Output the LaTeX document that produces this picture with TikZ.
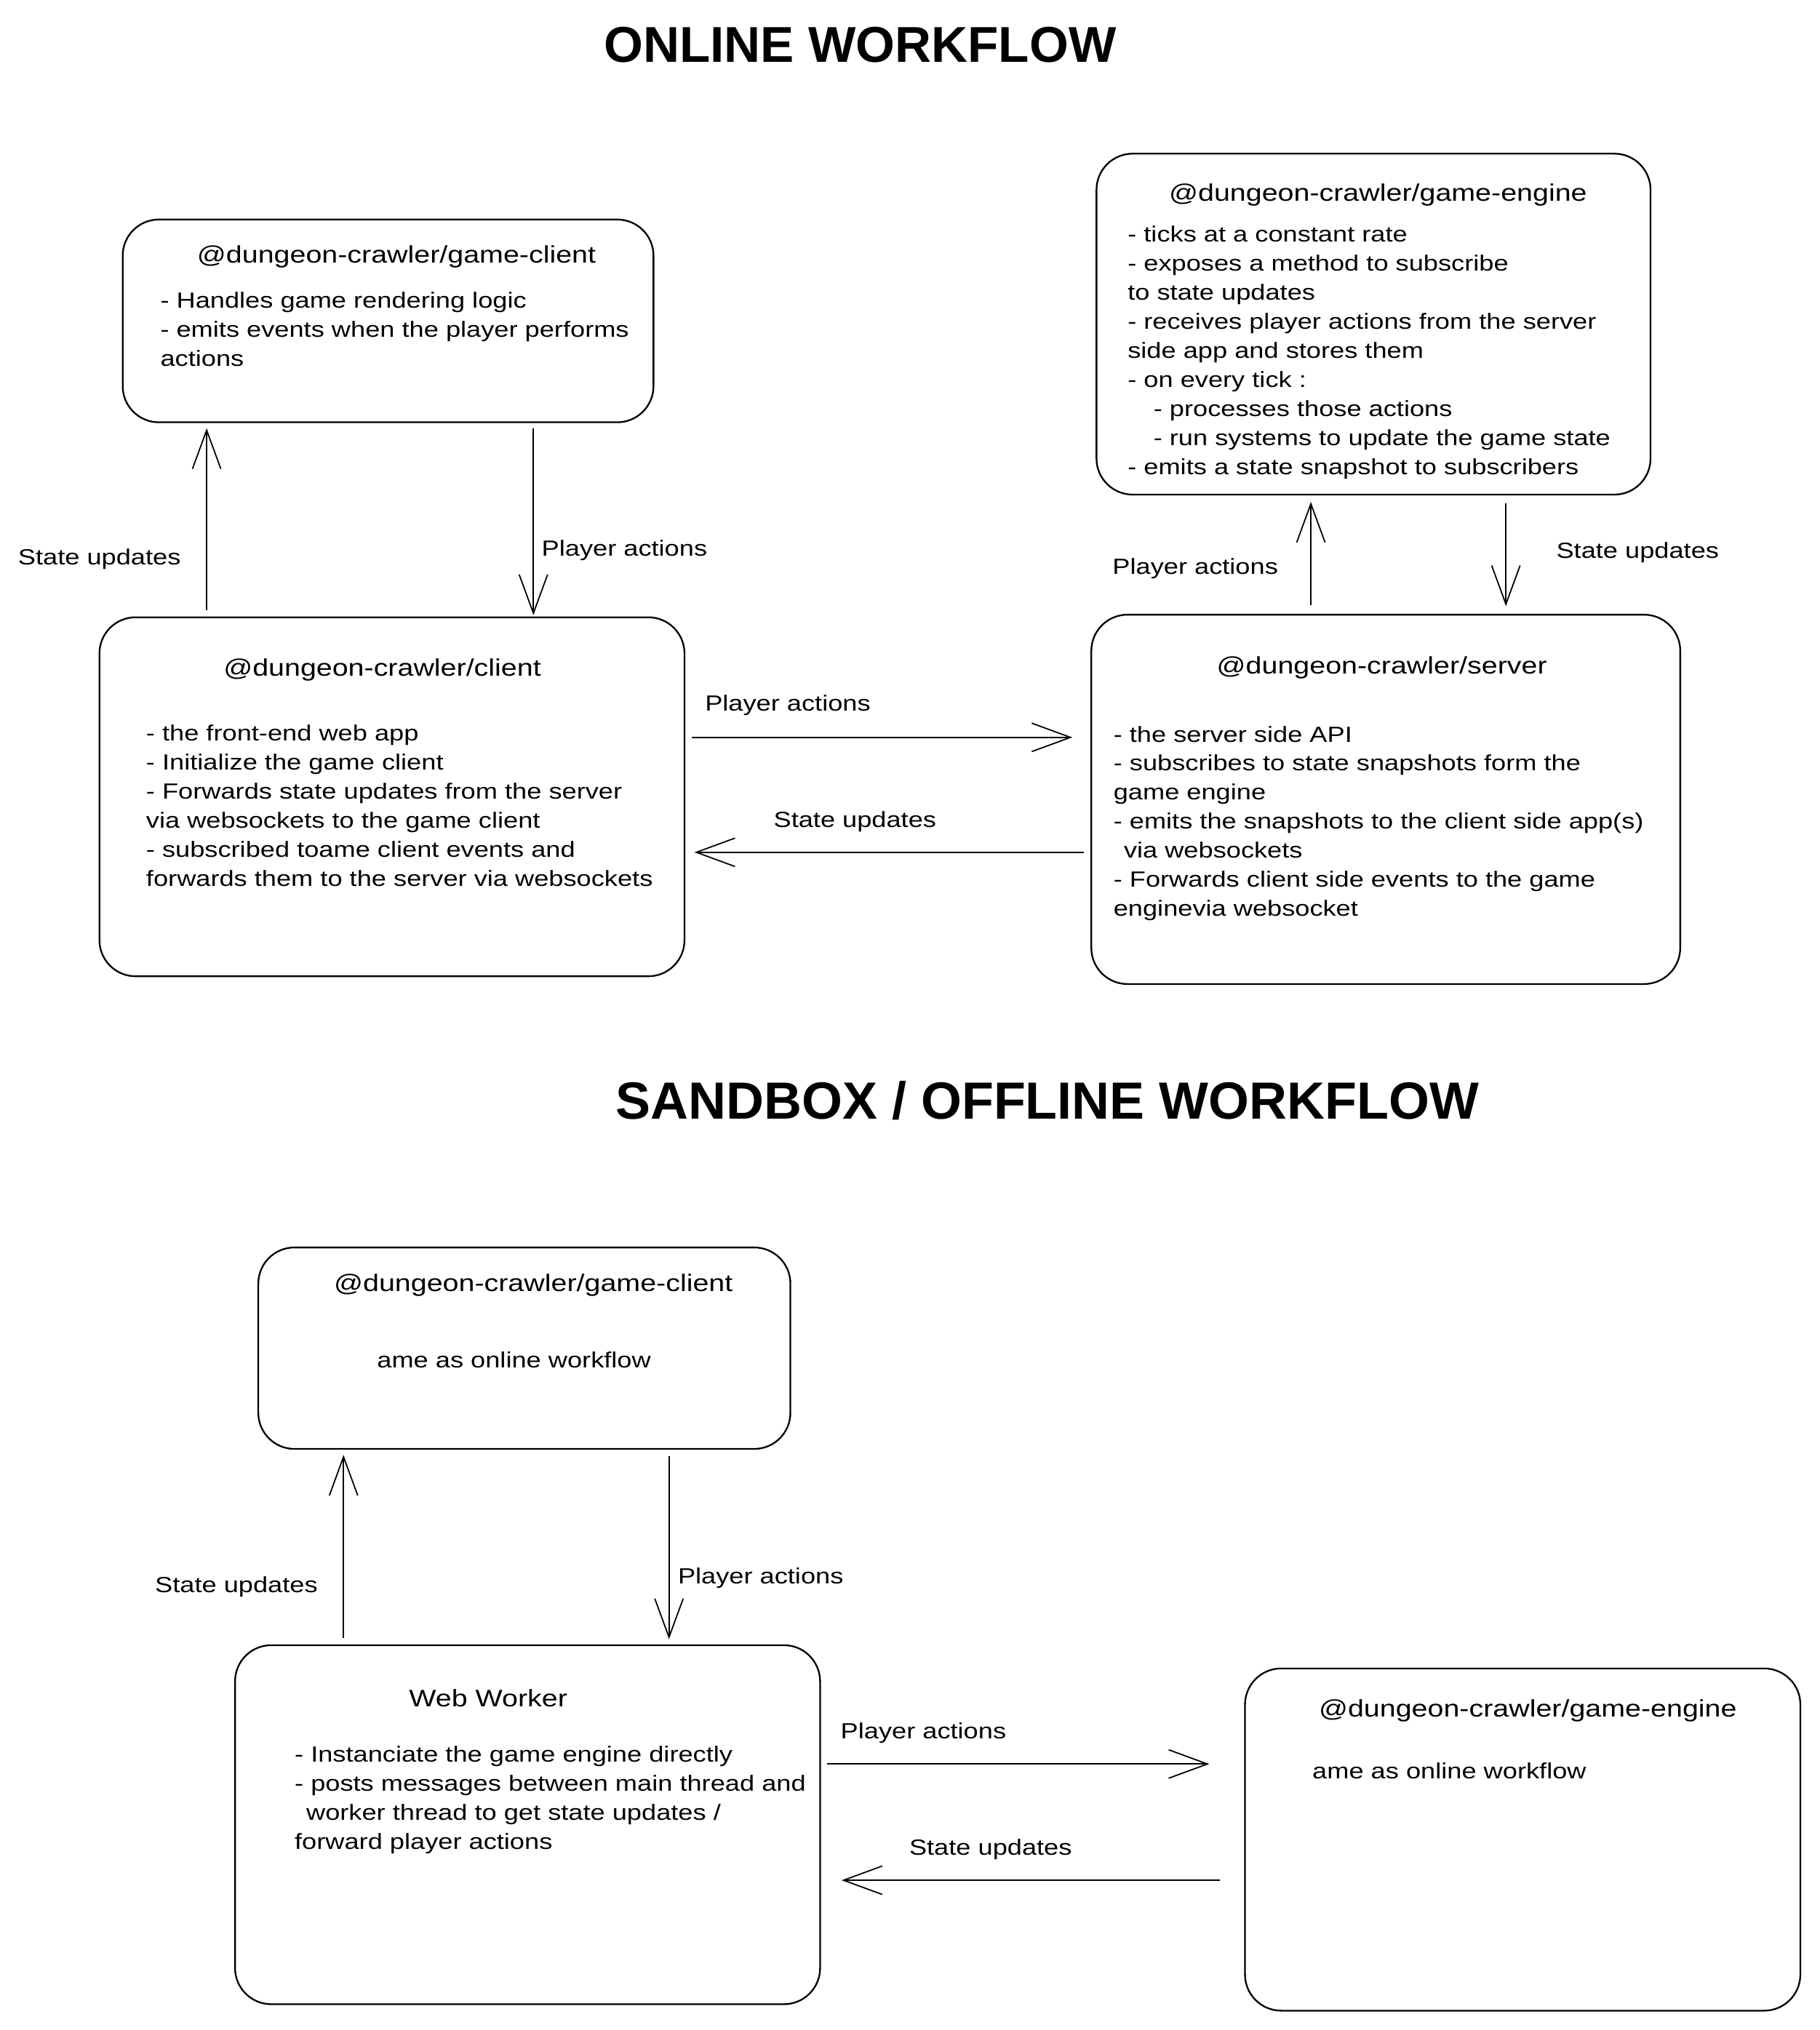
\documentclass[tikz,border=0pt]{standalone}
\usepackage{fontspec}
\setmainfont{Liberation Sans}[FakeStretch=1.2]
\newfontfamily\headfont{Liberation Sans}
\usetikzlibrary{arrows.meta}

\begin{document}
\begin{tikzpicture}[x=1pt, y=-1pt,
        pkgbox/.style={draw, line width=1.3pt, rounded corners=28pt, inner sep=0pt},
        pkgtitle/.style={font=\fontsize{18.5}{23}\selectfont, inner sep=0pt, yshift=-3pt},
        pkgtext/.style={font=\fontsize{17}{22.5}\selectfont, align=left, anchor=north west, inner sep=0pt, yshift=-3pt},
        flowlabel/.style={font=\fontsize{17}{22}\selectfont, inner sep=0pt, yshift=-3pt},
        heading/.style={font=\headfont\bfseries\fontsize{39}{45}\selectfont, inner sep=0pt},
        flow/.style={-{Straight Barb[length=30pt, width=22pt]}, line width=1pt}]
    \useasboundingbox (0,0) rectangle (1409,1572);

    % online workflow
    \node[heading] (online) at (666,35) {ONLINE WORKFLOW};

    \node[pkgbox, minimum width=411pt, minimum height=157pt] (gc1) at (300.5,248.5) {};
    \node[pkgtitle] (gc1title) at (307,196) {@dungeon-crawler/game-client};
    \node[pkgtext] (gc1text) at (124,223) {- Handles game rendering logic\\- emits events when the player performs\\actions};

    \node[pkgbox, minimum width=429pt, minimum height=264pt] (ge1) at (1063.5,251) {};
    \node[pkgtitle] (ge1title) at (1067,148) {@dungeon-crawler/game-engine};
    \node[pkgtext] (ge1text) at (873,172) {- ticks at a constant rate\\- exposes a method to subscribe\\to state updates\\- receives player actions from the server\\side app and stores them\\- on every tick :\\\hspace*{20pt}- processes those actions\\\hspace*{20pt}- run systems to update the game state\\- emits a state snapshot to subscribers};

    \node[pkgbox, minimum width=453pt, minimum height=278pt] (cl) at (303.5,617) {};
    \node[pkgtitle] (cltitle) at (296,516) {@dungeon-crawler/client};
    \node[pkgtext] (cltext) at (113,558) {- the front-end web app\\- Initialize the game client\\- Forwards state updates from the server\\via websockets to the game client\\- subscribed toame client events and\\forwards them to the server via websockets};

    \node[pkgbox, minimum width=456pt, minimum height=286pt] (sv) at (1073,619) {};
    \node[pkgtitle] (svtitle) at (1070,514) {@dungeon-crawler/server};
    \node[pkgtext] (svtext) at (862,559) {- the server side API\\- subscribes to state snapshots form the\\game engine\\- emits the snapshots to the client side app(s)\\\hspace*{8pt}via websockets\\- Forwards client side events to the game\\enginevia websocket};

    \coordinate (xs1) at (160,0);
    \coordinate (xp1) at (413,0);
    \coordinate (yp1) at (0,571);
    \coordinate (ys1) at (0,660);
    \coordinate (xp2) at (1015,0);
    \coordinate (xs2) at (1166,0);

    \draw[flow, shorten <=5pt, shorten >=4pt] (cl.north -| xs1) -- (gc1.south -| xs1);
    \draw[flow, shorten <=4pt, shorten >=1pt] (gc1.south -| xp1) -- (cl.north -| xp1);
    \draw[flow, shorten <=5pt, shorten >=14pt] (cl.east |- yp1) -- (sv.west |- yp1);
    \draw[flow, shorten <=5pt, shorten >=7pt] (sv.west |- ys1) -- (cl.east |- ys1);
    \draw[flow, shorten <=7pt, shorten >=5pt] (sv.north -| xp2) -- (ge1.south -| xp2);
    \draw[flow, shorten <=6pt, shorten >=6pt] (ge1.south -| xs2) -- (sv.north -| xs2);

    \node[flowlabel] (su1) at (77,430) {State updates};
    \node[flowlabel] (pa1) at (483.5,423) {Player actions};
    \node[flowlabel] (pa2) at (610,543) {Player actions};
    \node[flowlabel] (su2) at (662,633) {State updates};
    \node[flowlabel] (pa3) at (925.5,437) {Player actions};
    \node[flowlabel] (su3) at (1268,425) {State updates};

    % sandbox / offline workflow
    \node[heading, font=\headfont\bfseries\fontsize{40.5}{46}\selectfont] (offline) at (811,852) {SANDBOX / OFFLINE WORKFLOW};

    \node[pkgbox, minimum width=412pt, minimum height=156pt] (gc2) at (406,1044) {};
    \node[pkgtitle] (gc2title) at (413,992) {@dungeon-crawler/game-client};
    \node[flowlabel] (gc2text) at (398,1050) {ame as online workflow};

    \node[pkgbox, minimum width=453pt, minimum height=278pt] (ww) at (408.5,1413) {};
    \node[pkgtitle] (wwtitle) at (378,1312) {Web Worker};
    \node[pkgtext] (wwtext) at (228,1349) {- Instanciate the game engine directly\\- posts messages between main thread and\\\hspace*{9pt}worker thread to get state updates /\\forward player actions};

    \node[pkgbox, minimum width=430pt, minimum height=265pt] (ge2) at (1179,1424.5) {};
    \node[pkgtitle] (ge2title) at (1183,1322) {@dungeon-crawler/game-engine};
    \node[pkgtext] (ge2text) at (1016,1362) {ame as online workflow};

    \coordinate (xs3) at (266,0);
    \coordinate (xp3) at (518,0);
    \coordinate (yp2) at (0,1366);
    \coordinate (ys2) at (0,1456);

    \draw[flow, shorten <=5pt, shorten >=4pt] (ww.north -| xs3) -- (gc2.south -| xs3);
    \draw[flow, shorten <=5pt, shorten >=4pt] (gc2.south -| xp3) -- (ww.north -| xp3);
    \draw[flow, shorten <=5pt, shorten >=27pt] (ww.east |- yp2) -- (ge2.west |- yp2);
    \draw[flow, shorten <=19pt, shorten >=16pt] (ge2.west |- ys2) -- (ww.east |- ys2);

    \node[flowlabel] (su4) at (183,1226) {State updates};
    \node[flowlabel] (pa4) at (589,1219) {Player actions};
    \node[flowlabel] (pa5) at (715,1339) {Player actions};
    \node[flowlabel] (su5) at (767,1429) {State updates};
\end{tikzpicture}
\end{document}
